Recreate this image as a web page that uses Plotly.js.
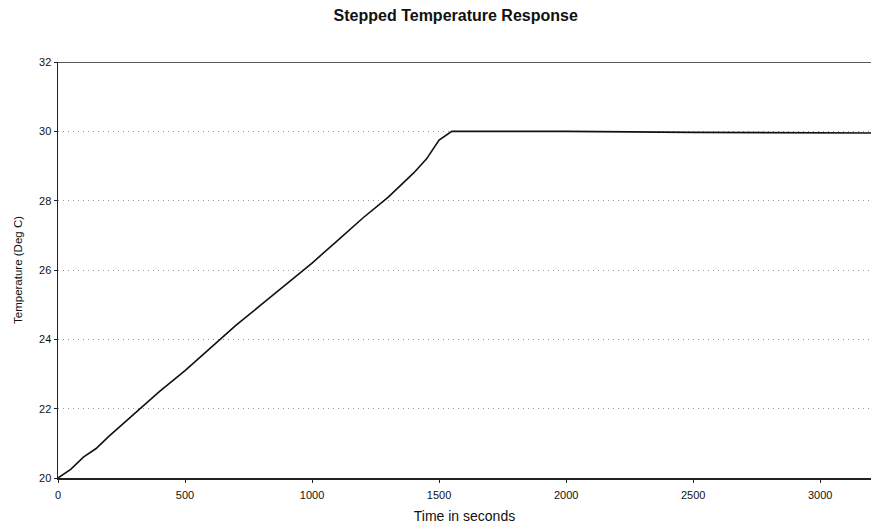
<!DOCTYPE html>
<html>
<head>
<meta charset="utf-8">
<script src="https://cdn.plot.ly/plotly-3.0.1.min.js"></script>
<style>html,body{margin:0;padding:0;background:#fff;}#chart{width:873px;height:529px;}</style>
</head>
<body>
<div id="chart"></div>
<script>
const timeSeconds = [0, 50, 100, 150, 200, 300, 400, 500, 600, 700, 800, 900, 1000, 1100, 1200, 1300, 1400, 1450, 1500, 1550, 1600, 2000, 2500, 3000, 3200];
const temperatureC = [20.0, 20.25, 20.6, 20.85, 21.2, 21.85, 22.5, 23.1, 23.75, 24.4, 25.0, 25.6, 26.2, 26.85, 27.5, 28.1, 28.8, 29.2, 29.75, 30.0, 30.0, 30.0, 29.97, 29.95, 29.95];
const xTicks = [0, 500, 1000, 1500, 2000, 2500, 3000];
const yTicks = [20, 22, 24, 26, 28, 30, 32];

const trace = {
  x: timeSeconds, y: temperatureC, type: 'scatter', mode: 'lines',
  line: {color: '#111', width: 1.6}, hoverinfo: 'skip'
};

const layout = {
  width: 873, height: 529,
  margin: {l: 58, r: 2, t: 62, b: 51},
  paper_bgcolor: '#fff', plot_bgcolor: '#fff',
  font: {family: 'Liberation Sans, Arial, sans-serif', color: '#111'},
  title: {text: '<b>Stepped Temperature Response</b>', font: {size: 16, color: '#111'}, x: 0.522, xanchor: 'center', y: 0.982, yanchor: 'top'},
  showlegend: false,
  xaxis: {
    range: [0, 3200], tickvals: xTicks, ticktext: xTicks.map(String),
    showgrid: false, zeroline: false, showline: true, linecolor: '#222', linewidth: 1.5,
    ticks: 'outside', ticklen: 3, tickcolor: '#222', tickfont: {size: 11}, ticklabelstandoff: 3,
    title: {text: 'Time in seconds', font: {size: 14}, standoff: 11}
  },
  yaxis: {
    range: [20, 32], tickvals: yTicks, ticktext: yTicks.map(String),
    showgrid: true, gridcolor: '#999', griddash: '1px,4px', gridwidth: 1,
    zeroline: false, showline: true, linecolor: '#222', linewidth: 1.5,
    ticks: 'outside', ticklen: 3, tickcolor: '#222', tickfont: {size: 11},
    title: {text: 'Temperature (Deg C)', font: {size: 11.5}, standoff: 14}
  },
  shapes: [
    {type: 'line', xref: 'paper', yref: 'y', x0: 0, x1: 1, y0: 32, y1: 32, line: {color: '#222', width: 1.5}}
  ]
};

Plotly.newPlot('chart', [trace], layout, {displayModeBar: false, staticPlot: true});
</script>
</body>
</html>
